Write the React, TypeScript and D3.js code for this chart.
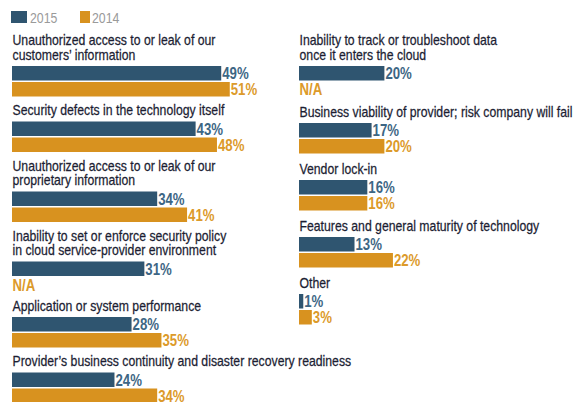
import React from "react";
import * as d3 from "d3";

// ---- data ----
const seriesNames = ["2015", "2014"];
const leftLabels: string[][] = [
  ["Unauthorized access to or leak of our", "customers’ information"],
  ["Security defects in the technology itself"],
  ["Unauthorized access to or leak of our", "proprietary information"],
  ["Inability to set or enforce security policy", "in cloud service-provider environment"],
  ["Application or system performance"],
  ["Provider’s business continuity and disaster recovery readiness"],
];
const left2015: (number | null)[] = [49, 43, 34, 31, 28, 24];
const left2014: (number | null)[] = [51, 48, 41, null, 35, 34];

const rightLabels: string[][] = [
  ["Inability to track or troubleshoot data", "once it enters the cloud"],
  ["Business viability of provider; risk company will fail"],
  ["Vendor lock-in"],
  ["Features and general maturity of technology"],
  ["Other"],
];
const right2015: (number | null)[] = [20, 17, 16, 13, 1];
const right2014: (number | null)[] = [null, 20, 16, 22, 3];

// ---- style ----
const W = 582;
const H = 402;
const BLUE = "#2f5570";
const ORANGE = "#d8921f";
const BLUE_TXT = "#3d6684";
const ORANGE_TXT = "#dc9a2a";
const LABEL_TXT = "#1c1e33";
const FONT = "'Liberation Sans', Arial, sans-serif";

const LINE_H = 14.5;
const BAR_OFF = 6.5;
const BAR_STEP = 16;
const BAR_H = 14.5;

const LABEL_SIZE = 14.6;
const LABEL_SX = 0.84;
const VALUE_SIZE = 16.5;
const VALUE_SX = 0.8;

const x = d3.scaleLinear().domain([0, 100]).range([0, 427]);

type Group = { baselines: number[]; rows: number[] };

function layout(labels: string[][], start: number, gap: number): Group[] {
  let y = start;
  return labels.map((lines) => {
    const baselines = lines.map((_, i) => y + i * LINE_H);
    const last = baselines[baselines.length - 1];
    const r1 = last + BAR_OFF;
    const r2 = r1 + BAR_STEP;
    y = r2 + gap;
    return { baselines, rows: [r1, r2] };
  });
}

function CText({
  x,
  y,
  sx,
  size,
  weight,
  fill,
  stroke,
  children,
}: {
  x: number;
  y: number;
  sx: number;
  size: number;
  weight?: string;
  fill: string;
  stroke?: number;
  children: React.ReactNode;
}) {
  return (
    <text
      transform={`translate(${x},${y}) scale(${sx},1)`}
      fontFamily={FONT}
      fontSize={size}
      fontWeight={weight || "normal"}
      fill={fill}
      stroke={stroke ? fill : "none"}
      strokeWidth={stroke || 0}
    >
      {children}
    </text>
  );
}

function Column({
  x0,
  labels,
  s2015,
  s2014,
  start,
  gap,
}: {
  x0: number;
  labels: string[][];
  s2015: (number | null)[];
  s2014: (number | null)[];
  start: number;
  gap: number;
}) {
  const groups = layout(labels, start, gap);
  const series = [s2015, s2014];
  const fills = [BLUE, ORANGE];
  const txt = [BLUE_TXT, ORANGE_TXT];
  return (
    <g>
      {groups.map((g, gi) => (
        <g key={gi}>
          {labels[gi].map((line, li) => (
            <CText key={li} x={x0 + 0.5} y={g.baselines[li]} sx={LABEL_SX} size={LABEL_SIZE} fill={LABEL_TXT} stroke={0.25}>
              {line}
            </CText>
          ))}
          {series.map((s, si) => {
            const v = s[gi];
            const top = g.rows[si];
            if (v == null) {
              return (
                <CText key={si} x={x0 + 0.5} y={top + 13} sx={VALUE_SX} size={VALUE_SIZE} weight="bold" fill={txt[si]}>
                  N/A
                </CText>
              );
            }
            return (
              <g key={si}>
                <rect x={x0} y={top} width={x(v)} height={BAR_H} fill={fills[si]} />
                <CText x={x0 + x(v) + 1} y={top + 13} sx={VALUE_SX} size={VALUE_SIZE} weight="bold" fill={txt[si]}>
                  {`${v}%`}
                </CText>
              </g>
            );
          })}
        </g>
      ))}
    </g>
  );
}

export default function App() {
  const legendX = [11, 80];
  const legendW = [16, 10];
  const legendTextX = [30, 92];
  return (
    <div style={{ position: "absolute", left: 0, top: 0 }}>
      <svg width={W} height={H} style={{ display: "block", background: "#ffffff" }}>
        {seriesNames.map((n, i) => (
          <g key={n}>
            <rect x={legendX[i]} y={11} width={legendW[i]} height={12} fill={i === 0 ? BLUE : ORANGE} />
            <CText x={legendTextX[i]} y={22.5} sx={0.82} size={15} fill="#9a9a9a">
              {n}
            </CText>
          </g>
        ))}
        <Column x0={12} labels={leftLabels} s2015={left2015} s2014={left2014} start={45} gap={33} />
        <Column x0={299} labels={rightLabels} s2015={right2015} s2014={right2014} start={45} gap={34.5} />
      </svg>
    </div>
  );
}
